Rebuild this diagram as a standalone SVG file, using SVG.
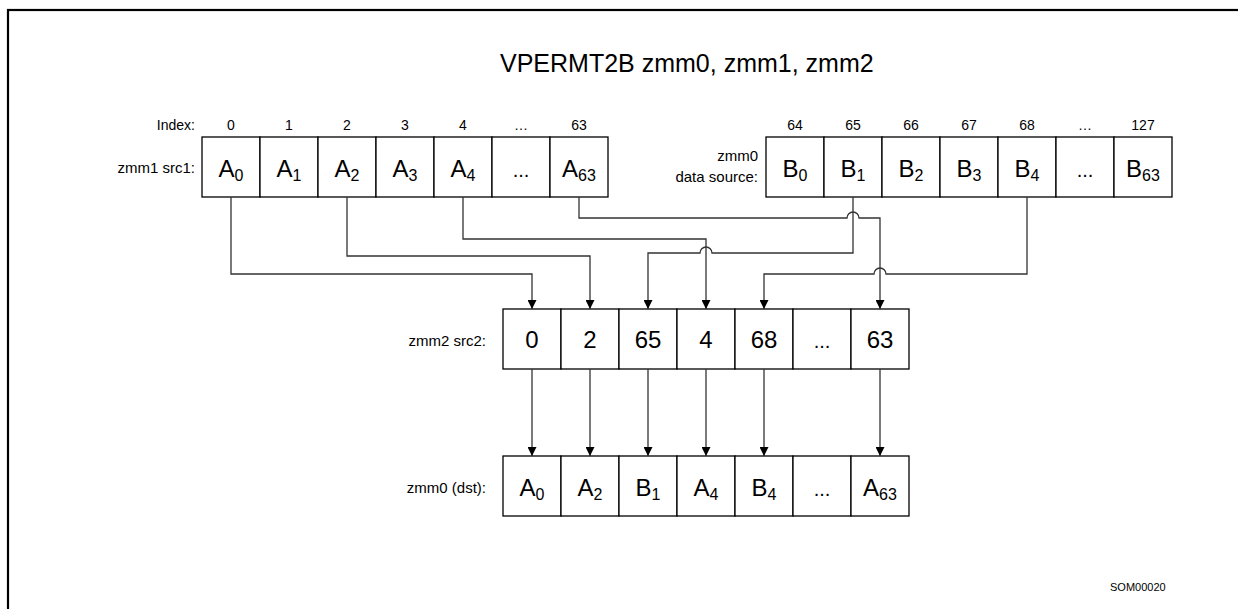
<svg xmlns="http://www.w3.org/2000/svg" width="1238" height="609" viewBox="0 0 1238 609">
<style>
text{font-family:"Liberation Sans",Arial,sans-serif;fill:#000}
.cell{fill:#fff;stroke:#000;stroke-width:1.3}
.big{font-size:24px;text-anchor:middle}
.lbl{font-size:15px;text-anchor:end}
.idx{font-size:14px;text-anchor:middle}
.sub{font-size:16px}
.wire{fill:none;stroke:#333;stroke-width:1.3}
</style>
<defs>
<marker id="ah" markerUnits="userSpaceOnUse" markerWidth="10" markerHeight="9" refX="9" refY="4.5" orient="auto">
<path d="M0,0 L9,4.5 L0,9 z" fill="#000"/>
</marker>
</defs>
<rect x="8" y="10" width="1250" height="620" fill="#fff" stroke="#000" stroke-width="2.2"/>
<text id="title" x="500" y="72" style="font-size:25px">VPERMT2B zmm0, zmm1, zmm2</text>

<g id="index-labels">
<text class="lbl" x="195" y="130" style="font-size:14px">Index:</text>
<text class="idx" x="231" y="130">0</text>
<text class="idx" x="289" y="130">1</text>
<text class="idx" x="347" y="130">2</text>
<text class="idx" x="405" y="130">3</text>
<text class="idx" x="463" y="130">4</text>
<text class="idx" x="521" y="130">…</text>
<text class="idx" x="579" y="130">63</text>
<text class="idx" x="795" y="130">64</text>
<text class="idx" x="853" y="130">65</text>
<text class="idx" x="911" y="130">66</text>
<text class="idx" x="969" y="130">67</text>
<text class="idx" x="1027" y="130">68</text>
<text class="idx" x="1085" y="130">…</text>
<text class="idx" x="1143" y="130">127</text>
</g>

<g id="src1">
<text class="lbl" x="195" y="173">zmm1 src1:</text>
<rect class="cell" x="202" y="137" width="58" height="60"/>
<rect class="cell" x="260" y="137" width="58" height="60"/>
<rect class="cell" x="318" y="137" width="58" height="60"/>
<rect class="cell" x="376" y="137" width="58" height="60"/>
<rect class="cell" x="434" y="137" width="58" height="60"/>
<rect class="cell" x="492" y="137" width="58" height="60"/>
<rect class="cell" x="550" y="137" width="58" height="60"/>
<text class="big" x="231" y="177">A<tspan class="sub" dy="4">0</tspan></text>
<text class="big" x="289" y="177">A<tspan class="sub" dy="4">1</tspan></text>
<text class="big" x="347" y="177">A<tspan class="sub" dy="4">2</tspan></text>
<text class="big" x="405" y="177">A<tspan class="sub" dy="4">3</tspan></text>
<text class="big" x="463" y="177">A<tspan class="sub" dy="4">4</tspan></text>
<text class="big" x="521" y="177" style="font-size:20px">...</text>
<text class="big" x="579" y="177">A<tspan class="sub" dy="4">63</tspan></text>
</g>

<g id="datasrc">
<text class="lbl" x="758" y="161">zmm0</text>
<text class="lbl" x="758" y="182">data source:</text>
<rect class="cell" x="766" y="137" width="58" height="60"/>
<rect class="cell" x="824" y="137" width="58" height="60"/>
<rect class="cell" x="882" y="137" width="58" height="60"/>
<rect class="cell" x="940" y="137" width="58" height="60"/>
<rect class="cell" x="998" y="137" width="58" height="60"/>
<rect class="cell" x="1056" y="137" width="58" height="60"/>
<rect class="cell" x="1114" y="137" width="58" height="60"/>
<text class="big" x="795" y="177">B<tspan class="sub" dy="4">0</tspan></text>
<text class="big" x="853" y="177">B<tspan class="sub" dy="4">1</tspan></text>
<text class="big" x="911" y="177">B<tspan class="sub" dy="4">2</tspan></text>
<text class="big" x="969" y="177">B<tspan class="sub" dy="4">3</tspan></text>
<text class="big" x="1027" y="177">B<tspan class="sub" dy="4">4</tspan></text>
<text class="big" x="1085" y="177" style="font-size:20px">...</text>
<text class="big" x="1143" y="177">B<tspan class="sub" dy="4">63</tspan></text>
</g>

<g id="src2">
<text class="lbl" x="486" y="346">zmm2 src2:</text>
<rect class="cell" x="503" y="309" width="58" height="60"/>
<rect class="cell" x="561" y="309" width="58" height="60"/>
<rect class="cell" x="619" y="309" width="58" height="60"/>
<rect class="cell" x="677" y="309" width="58" height="60"/>
<rect class="cell" x="735" y="309" width="58" height="60"/>
<rect class="cell" x="793" y="309" width="58" height="60"/>
<rect class="cell" x="851" y="309" width="58" height="60"/>
<text class="big" x="532" y="348">0</text>
<text class="big" x="590" y="348">2</text>
<text class="big" x="648" y="348">65</text>
<text class="big" x="706" y="348">4</text>
<text class="big" x="764" y="348">68</text>
<text class="big" x="822" y="348" style="font-size:20px">...</text>
<text class="big" x="880" y="348">63</text>
</g>

<g id="dst">
<text class="lbl" x="486" y="493">zmm0 (dst):</text>
<rect class="cell" x="503" y="456" width="58" height="60"/>
<rect class="cell" x="561" y="456" width="58" height="60"/>
<rect class="cell" x="619" y="456" width="58" height="60"/>
<rect class="cell" x="677" y="456" width="58" height="60"/>
<rect class="cell" x="735" y="456" width="58" height="60"/>
<rect class="cell" x="793" y="456" width="58" height="60"/>
<rect class="cell" x="851" y="456" width="58" height="60"/>
<text class="big" x="532" y="496">A<tspan class="sub" dy="4">0</tspan></text>
<text class="big" x="590" y="496">A<tspan class="sub" dy="4">2</tspan></text>
<text class="big" x="648" y="496">B<tspan class="sub" dy="4">1</tspan></text>
<text class="big" x="706" y="496">A<tspan class="sub" dy="4">4</tspan></text>
<text class="big" x="764" y="496">B<tspan class="sub" dy="4">4</tspan></text>
<text class="big" x="822" y="496" style="font-size:20px">...</text>
<text class="big" x="880" y="496">A<tspan class="sub" dy="4">63</tspan></text>
</g>

<g id="connectors">
<path class="wire" marker-end="url(#ah)" d="M231,197 V274 H532 V309"/>
<path class="wire" marker-end="url(#ah)" d="M347,197 V256 H590 V309"/>
<path class="wire" marker-end="url(#ah)" d="M463,197 V239 H706 V309"/>
<path class="wire" marker-end="url(#ah)" d="M579,197 V218 H847 A6,6 0 0 1 859,218 H880 V309"/>
<path class="wire" marker-end="url(#ah)" d="M853,197 V253 H712 A6,6 0 0 0 700,253 H648 V309"/>
<path class="wire" marker-end="url(#ah)" d="M1027,197 V274 H886 A6,6 0 0 0 874,274 H764 V309"/>
<path class="wire" marker-end="url(#ah)" d="M532,369 V456"/>
<path class="wire" marker-end="url(#ah)" d="M590,369 V456"/>
<path class="wire" marker-end="url(#ah)" d="M648,369 V456"/>
<path class="wire" marker-end="url(#ah)" d="M706,369 V456"/>
<path class="wire" marker-end="url(#ah)" d="M764,369 V456"/>
<path class="wire" marker-end="url(#ah)" d="M880,369 V456"/>
</g>

<text id="code" x="1110" y="591" style="font-size:11px">SOM00020</text>
</svg>
